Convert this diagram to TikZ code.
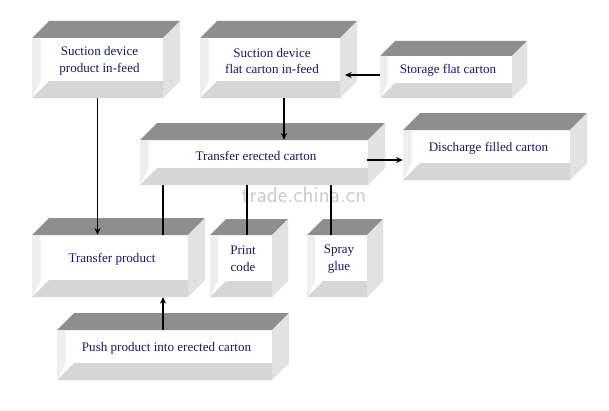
\documentclass[tikz,border=0pt]{standalone}
\usepackage{fontspec}
\setmainfont{Liberation Serif}
\usetikzlibrary{arrows.meta}
\begin{document}
\begin{tikzpicture}[x=0.75pt,y=-0.75pt,
  lbl/.style={text=txt,font=\fontsize{9.8}{12.5}\selectfont,align=center},
  conn/.style={line width=0.8pt,black},
  arr/.style={conn,-{Stealth[length=5pt,width=4.5pt]}}]
\definecolor{txt}{HTML}{1A1A5A}
\definecolor{topc}{HTML}{8E8E8E}
\definecolor{sidec}{HTML}{E2E2E2}
\definecolor{floorc}{HTML}{D6D6D6}
\definecolor{leftc}{HTML}{EEEEEE}
\useasboundingbox (0,0) rectangle (609,410);
\fill[white] (0,0) rectangle (609,410);
\newcommand\bx[7]{% name x0 y0 x1 y1 depth text
  \fill[topc] (#2,#3)--({#2+#6},{#3-#6})--({#4+#6},{#3-#6})--(#4,#3)--cycle;
  \fill[sidec] (#4,#3)--({#4+#6},{#3-#6})--({#4+#6},{#5-#6})--(#4,#5)--cycle;
  \fill[floorc] (#2,#5)--({#2+#6},{#5-#6})--(#4,{#5-#6})--(#4,#5)--cycle;
  \fill[leftc] (#2,#3)--({#2+0.5*#6},#3)--({#2+0.5*#6},{#5-#6})--(#2,#5)--cycle;
  \node[minimum width={(#4-#2)*0.75pt},minimum height={(#5-#3)*0.75pt},inner sep=0] (#1) at ({(#2+#4)/2},{(#3+#5)/2}) {};
  \node[lbl] (#1t) at ({(#2+#4)/2+2},{(#3+#5)/2-7}) {#7};
}
\bx{b1}{32}{38}{163}{98}{17}{Suction device\\product in-feed}
\bx{b2}{200}{38}{340}{98}{17}{Suction device\\flat carton in-feed}
\bx{b3}{380}{56}{512}{98}{15}{Storage flat carton}
\bx{b4}{140}{140}{368}{185}{17}{Transfer erected carton}
\bx{b5}{403}{130}{570}{180}{17}{Discharge filled carton}
\bx{b6}{32}{235}{188}{297}{17}{Transfer product}
\bx{b7}{210}{235}{272}{297}{16}{Print\\code}
\bx{b8}{307}{235}{367}{297}{16}{Spray\\glue}
\bx{b9}{57}{330}{272}{380}{17}{Push product into erected carton}
\node[text=gray!40,font=\fontsize{17}{17}\selectfont\sffamily] (wm) at (304,195) {trade.china.cn};
\coordinate (c1) at (284,98);
\draw[arr] (b1.south) -- (b6.north -| b1.south);
\draw[arr] (c1) -- (b4.north -| c1);
\draw[arr] (b3.west) ++(0,-2) -- (345,75);
\draw[arr] (367,160) -- (b5.west |- 0,160);
\coordinate (c2) at (163,297);
\draw[conn] (b4.south -| c2) -- (b6.north -| c2);
\draw[conn] (b4.south -| 247,0) -- (b7.north -| 247,0);
\draw[conn] (b4.south -| 331,0) -- (b8.north -| 331,0);
\draw[arr] (b9.north -| c2) -- (c2);
\end{tikzpicture}
\end{document}
